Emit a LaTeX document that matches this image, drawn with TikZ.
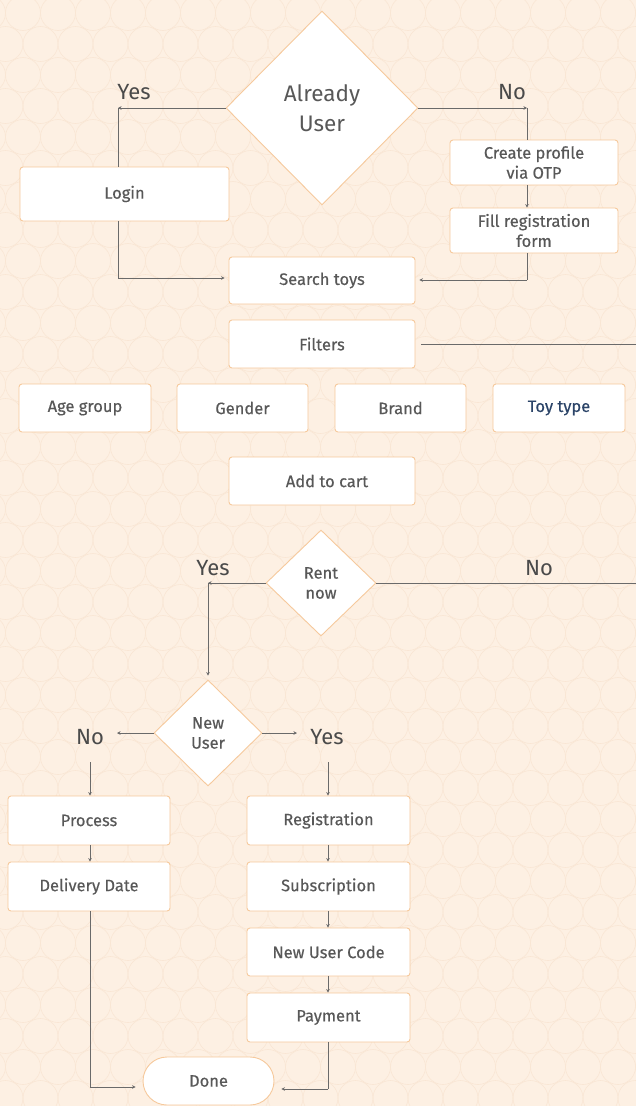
\documentclass[tikz,border=0pt]{standalone}
\usepackage{fontspec}
\setmainfont{Fira Sans}
\newfontfamily\boxfont{Fira Sans}[FakeBold=0.4]
\usetikzlibrary{shapes.geometric,arrows.meta}
\definecolor{bgpeach}{HTML}{FDF0E3}
\definecolor{circ}{HTML}{F9E6D4}
\definecolor{boxorange}{HTML}{F6C99C}
\definecolor{txtgray}{HTML}{585858}
\definecolor{lblgray}{HTML}{4A4A4A}
\definecolor{linegray}{HTML}{6A6A6A}
\definecolor{toyblue}{HTML}{2B4468}
\tikzset{
  stepbox/.style={draw=boxorange, fill=white, rounded corners=3pt, line width=0.9pt,
    text=txtgray, font=\boxfont\fontsize{16.5}{20}\selectfont, inner sep=0pt, align=center},
  decision/.style={diamond, draw=boxorange, fill=white, line width=0.9pt, inner sep=0pt,
    text=txtgray, align=center, aspect=1},
  lbl/.style={text=lblgray, font=\fontsize{22}{24}\selectfont},
  conn/.style={draw=linegray, line width=0.9pt},
  arr/.style={conn, -{Stealth[length=3.5pt,width=3.5pt]}},
}
\begin{document}
\begin{tikzpicture}[x=1pt,y=-1pt]
\useasboundingbox (0,0) rectangle (636,1106);
\fill[bgpeach] (0,0) rectangle (636,1106);
\begin{scope}
\clip (0,0) rectangle (636,1106);
\foreach \j in {0,...,36} {
  \pgfmathsetmacro{\off}{mod(\j,2)*17.5}
  \foreach \i in {-1,...,19} {
    \draw[circ, line width=0.6pt] (\i*35+23-\off, \j*31+13) circle (17.5);
  }
}
\end{scope}

% decision diamonds
\node[decision, minimum width=192pt, minimum height=194pt, font=\fontsize{22.5}{30}\selectfont] (au) at (322,108) {Already\\User};
\node[decision, minimum width=110pt, minimum height=106pt, font=\boxfont\fontsize{16.5}{20}\selectfont] (rent) at (321,583) {Rent\\now};
\node[decision, minimum width=108pt, minimum height=106pt, font=\boxfont\fontsize{16.5}{20}\selectfont] (nu) at (208,733) {New\\User};

% boxes
\node[stepbox, minimum width=209pt, minimum height=54pt] (login) at (124.5,194) {Login};
\node[stepbox, minimum width=168pt, minimum height=45pt] (create) at (534,162.5) {Create profile\\via OTP};
\node[stepbox, minimum width=168pt, minimum height=45pt] (fillreg) at (534,230.5) {Fill registration\\form};
\node[stepbox, minimum width=186pt, minimum height=47pt] (search) at (322,280.5) {Search toys};
\node[stepbox, minimum width=186pt, minimum height=48pt] (filters) at (322,344) {Filters};
\node[stepbox, minimum width=132pt, minimum height=48pt] (age) at (85,408) {Age group};
\node[stepbox, minimum width=131pt, minimum height=48pt] (gender) at (242.5,408) {Gender};
\node[stepbox, minimum width=131pt, minimum height=48pt] (brand) at (400.5,408) {Brand};
\node[stepbox, minimum width=132pt, minimum height=48pt, text=toyblue] (toy) at (559,408) {Toy type};
\node[stepbox, minimum width=186pt, minimum height=48pt] (cart) at (322,481) {\hspace*{10pt}Add to cart};
\node[stepbox, minimum width=162pt, minimum height=49pt] (process) at (89,820.5) {Process};
\node[stepbox, minimum width=162pt, minimum height=49pt] (delivery) at (89,886.5) {Delivery Date};
\node[stepbox, minimum width=163pt, minimum height=49pt] (reg) at (328.5,820.5) {Registration};
\node[stepbox, minimum width=163pt, minimum height=49pt] (sub) at (328.5,886.5) {Subscription};
\node[stepbox, minimum width=163pt, minimum height=48pt] (code) at (328.5,952) {New User Code};
\node[stepbox, minimum width=163pt, minimum height=49pt] (pay) at (328.5,1017.5) {Payment};
\node[stepbox, minimum width=131pt, minimum height=48pt, rounded corners=24pt] (done) at (208.5,1081) {Done};

% labels
\node[lbl] (yes1) at (134,92) {Yes};
\node[lbl] (no1) at (512,92) {No};
\node[lbl] (yes2) at (213,568) {Yes};
\node[lbl] (no2) at (539,568) {No};
\node[lbl] (no3) at (90,737) {No};
\node[lbl] (yes3) at (327,737) {Yes};

% coordinates
\coordinate (c1) at (118,108);
\coordinate (c2) at (527,108);
\coordinate (c3) at (527,280);
\coordinate (c4) at (118,278);
\coordinate (fr) at (636,344);
\coordinate (c5) at (208,583);
\coordinate (c6) at (636,583);
\coordinate (c7) at (117,733);
\coordinate (c8) at (297,733);
\coordinate (c9) at (90,762);
\coordinate (c10) at (328,762);
\coordinate (c11) at (90,1087);
\coordinate (c12) at (328,1089);

% connectors
\draw[arr] (au.west) -- (c1);
\draw[conn] (c1) -- (c1 |- login.north);
\draw[arr] (au.east) -- (c2);
\draw[conn] (c2) -- (c2 |- create.north);
\draw[arr] (c2 |- create.south) -- (c2 |- fillreg.north);
\draw[conn] (c2 |- fillreg.south) -- (c3);
\draw[arr, shorten >=4pt] (c3) -- (c3 -| search.east);
\draw[conn] (c1 |- login.south) -- (c4);
\draw[arr, shorten >=4pt] (c4) -- (c4 -| search.west);
\draw[conn] ([xshift=6pt]filters.east) -- (fr);
\draw[arr] (rent.west) -- (c5);
\draw[arr, shorten >=4pt] (c5) -- (nu.north);
\draw[conn] (rent.east) -- (c6);
\draw[arr] (nu.west) -- (c7);
\draw[arr] (nu.east) -- (c8);
\draw[arr] (c9) -- (c9 |- process.north);
\draw[arr] (c10) -- (c10 |- reg.north);
\draw[arr] (c9 |- process.south) -- (c9 |- delivery.north);
\draw[arr] (c10 |- reg.south) -- (c10 |- sub.north);
\draw[arr] (c10 |- sub.south) -- (c10 |- code.north);
\draw[arr] (c10 |- code.south) -- (c10 |- pay.north);
\draw[conn] (c9 |- delivery.south) -- (c11);
\draw[arr, shorten >=7pt] (c11) -- (c11 -| done.west);
\draw[conn] (c10 |- pay.south) -- (c12);
\draw[arr, shorten >=7pt] (c12) -- (c12 -| done.east);
\end{tikzpicture}
\end{document}
